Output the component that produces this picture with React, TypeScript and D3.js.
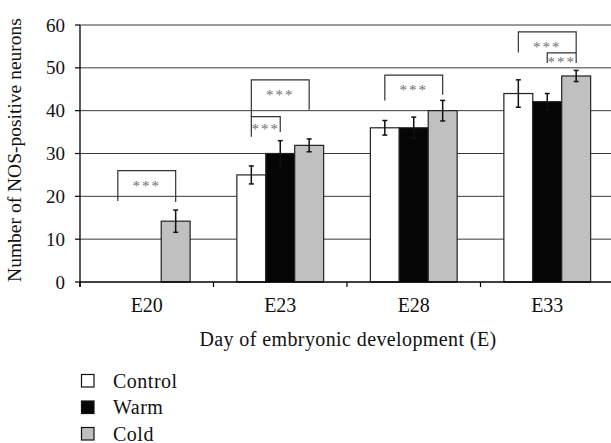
import React from "react";
import * as d3 from "d3";

// Data
const categories: string[] = ["E20", "E23", "E28", "E33"];
const seriesNames: string[] = ["Control", "Warm", "Cold"];
const seriesColors: string[] = ["#ffffff", "#050505", "#c0c0c0"];

// null = no bar for that day
const controlValues: (number | null)[] = [null, 25.0, 36.0, 44.0];
const warmValues: (number | null)[] = [null, 30.0, 36.0, 42.1];
const coldValues: (number | null)[] = [14.2, 31.9, 40.0, 48.1];

const controlErrors: number[] = [0, 2.1, 1.7, 3.2];
const warmErrors: number[] = [0, 3.0, 2.5, 1.9];
const coldErrors: number[] = [2.6, 1.5, 2.4, 1.3];

const yTicks: number[] = [0, 10, 20, 30, 40, 50, 60];

// significance brackets: day, from series, to series, top, left leg end, right leg end
const brackets: { day: string; from: number; to: number; top: number; leftEnd: number; rightEnd: number }[] = [
    { day: "E20", from: 0, to: 2, top: 26.0, leftEnd: 18.9, rightEnd: 18.7 },
    { day: "E23", from: 0, to: 2, top: 47.2, leftEnd: 38.6, rightEnd: 40.2 },
    { day: "E23", from: 0, to: 1, top: 38.6, leftEnd: 33.9, rightEnd: 35.0 },
    { day: "E28", from: 0, to: 2, top: 48.3, leftEnd: 42.4, rightEnd: 43.7 },
    { day: "E33", from: 0, to: 2, top: 58.4, leftEnd: 53.6, rightEnd: 53.5 },
    { day: "E33", from: 1, to: 2, top: 53.5, leftEnd: 51.1, rightEnd: 51.1 },
];

const App: React.FC = () => {
    const width = 611;
    const height = 443;
    const marginLeft = 80;
    const marginTop = 25;
    const plotBottom = 282;
    const font = "'Liberation Serif', 'Times New Roman', serif";

    const values = [controlValues, warmValues, coldValues];
    const errors = [controlErrors, warmErrors, coldErrors];

    const xScale = d3.scaleBand<string>()
        .domain(categories)
        .range([marginLeft, 614])
        .paddingInner(0.35)
        .paddingOuter(0.175);

    const xInner = d3.scaleBand<number>()
        .domain(d3.range(seriesNames.length))
        .range([0, xScale.bandwidth()]);

    const yScale = d3.scaleLinear()
        .domain([0, 60])
        .range([plotBottom, marginTop]);

    const step = xScale.step();
    const boundaries = categories.map(c => xScale(c)! - step * xScale.paddingOuter());
    const barCenter = (day: string, s: number) => xScale(day)! + xInner(s)! + xInner.bandwidth() / 2;

    return (
        <svg width={width} height={height} style={{ position: "absolute", left: 0, top: 0, background: "#fff" }}>
            {/* grid lines */}
            {yTicks.filter(t => t > 0).map(t => (
                <line key={`g${t}`} x1={marginLeft} x2={width} y1={yScale(t)} y2={yScale(t)} stroke="#3a3a3a" strokeWidth={1} />
            ))}

            {/* bars */}
            {categories.map((c, i) => (
                <g key={c}>
                    {values.map((vals, s) => {
                        const v = vals[i];
                        if (v === null) return null;
                        return (
                            <rect
                                key={s}
                                x={xScale(c)! + xInner(s)!}
                                y={yScale(v)}
                                width={xInner.bandwidth()}
                                height={plotBottom - yScale(v)}
                                fill={seriesColors[s]}
                                stroke="#222"
                                strokeWidth={1.2}
                            />
                        );
                    })}
                </g>
            ))}

            {/* error bars */}
            {categories.map((c, i) => (
                <g key={`e${c}`} stroke="#111" strokeWidth={1.5}>
                    {values.map((vals, s) => {
                        const v = vals[i];
                        if (v === null) return null;
                        const cx = barCenter(c, s);
                        const e = errors[s][i];
                        return (
                            <g key={s}>
                                <line x1={cx} x2={cx} y1={yScale(v + e)} y2={yScale(v - e)} />
                                <line x1={cx - 2.5} x2={cx + 2.5} y1={yScale(v + e)} y2={yScale(v + e)} />
                                <line x1={cx - 2.5} x2={cx + 2.5} y1={yScale(v - e)} y2={yScale(v - e)} />
                            </g>
                        );
                    })}
                </g>
            ))}

            {/* significance brackets */}
            {brackets.map((b, i) => {
                const x1 = barCenter(b.day, b.from);
                const x2 = barCenter(b.day, b.to);
                const yTop = yScale(b.top);
                const minLeg = Math.min(yScale(b.leftEnd), yScale(b.rightEnd)) - yTop;
                const textY = yTop + Math.min(13, minLeg * 0.65);
                return (
                    <g key={`b${i}`}>
                        <path
                            d={`M${x1},${yScale(b.leftEnd)}V${yTop}H${x2}V${yScale(b.rightEnd)}`}
                            fill="none"
                            stroke="#333"
                            strokeWidth={1.2}
                        />
                        <text
                            x={(x1 + x2) / 2}
                            y={textY + 7}
                            textAnchor="middle"
                            fontFamily={font}
                            fontSize={15}
                            letterSpacing={2}
                            fill="#707070"
                        >
                            ***
                        </text>
                    </g>
                );
            })}

            {/* x axis */}
            <line x1={marginLeft} x2={width} y1={plotBottom} y2={plotBottom} stroke="#000" strokeWidth={1.3} />
            {boundaries.map((bx, i) => (
                <line key={`xt${i}`} x1={bx} x2={bx} y1={plotBottom} y2={plotBottom + 5} stroke="#000" strokeWidth={1.2} />
            ))}
            {categories.map(c => (
                <text
                    key={`xl${c}`}
                    x={xScale(c)! + xScale.bandwidth() / 2}
                    y={312}
                    textAnchor="middle"
                    fontFamily={font}
                    fontSize={20}
                    fill="#111"
                >
                    {c}
                </text>
            ))}
            <text x={348} y={346} textAnchor="middle" fontFamily={font} fontSize={20} letterSpacing={0.4} fill="#111">
                Day of embryonic development (E)
            </text>

            {/* y axis */}
            <line x1={marginLeft} x2={marginLeft} y1={marginTop} y2={plotBottom + 5} stroke="#000" strokeWidth={1.3} />
            {yTicks.map(t => (
                <g key={`yt${t}`}>
                    <line x1={marginLeft - 5} x2={marginLeft} y1={yScale(t)} y2={yScale(t)} stroke="#000" strokeWidth={1.2} />
                    <text
                        x={65}
                        y={yScale(t)}
                        dy="0.35em"
                        textAnchor="end"
                        fontFamily={font}
                        fontSize={19}
                        fill="#111"
                    >
                        {t}
                    </text>
                </g>
            ))}
            <text
                transform={`translate(21, 150) rotate(-90)`}
                textAnchor="middle"
                fontFamily={font}
                fontSize={19.5}
                fill="#111"
            >
                Number of NOS-positive neurons
            </text>

            {/* legend */}
            {seriesNames.map((name, i) => (
                <g key={name} transform={`translate(81, ${374 + i * 26.5})`}>
                    <rect x={0.5} y={0.5} width={12.5} height={12.5} fill={seriesColors[i]} stroke="#111" strokeWidth={1.2} />
                    <text x={32} y={6.5} dy="0.35em" fontFamily={font} fontSize={20} letterSpacing={0.5} fill="#111">
                        {name}
                    </text>
                </g>
            ))}
        </svg>
    );
};

export default App;
